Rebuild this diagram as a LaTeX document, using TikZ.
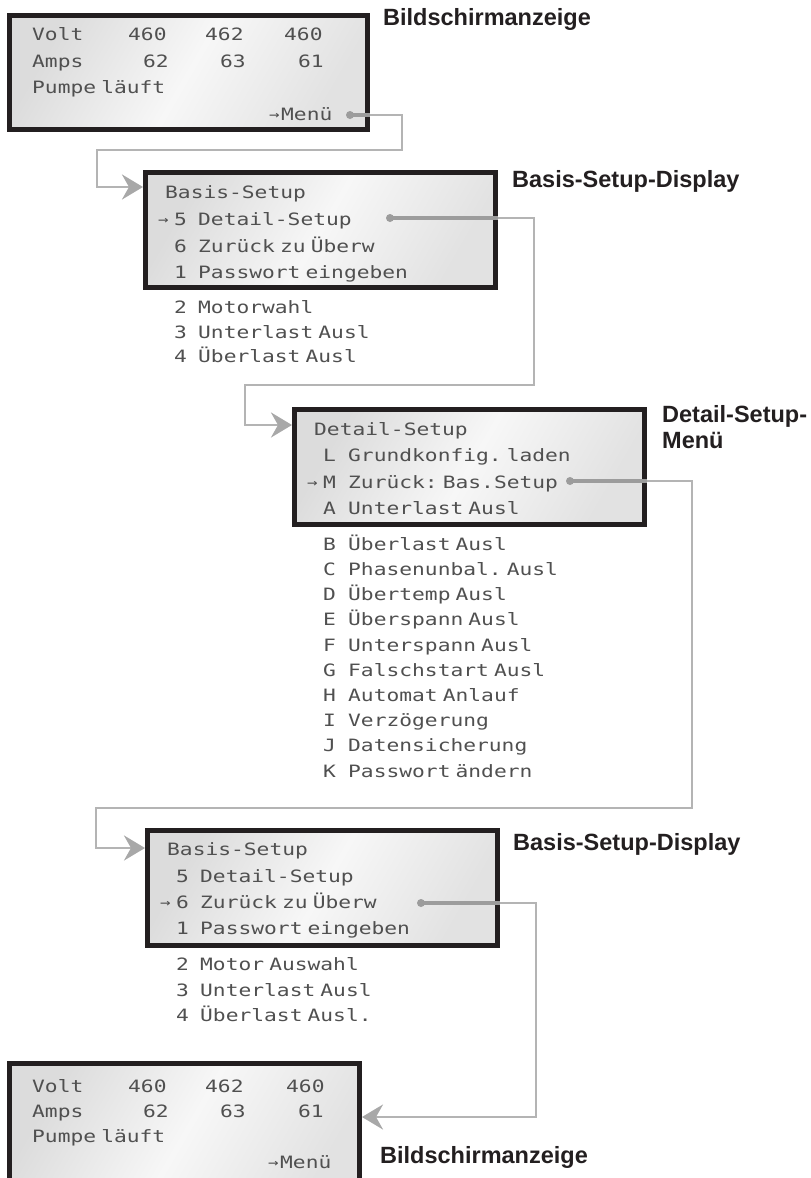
\documentclass[tikz,border=0pt]{standalone}
\usepackage{fontspec}
\usetikzlibrary{arrows.meta}
\newfontfamily\lcdfont[FakeStretch=1.25, WordSpace=0.4]{DejaVu Sans Mono}
\newfontfamily\capfont{Liberation Sans}
\definecolor{frame}{HTML}{231F20}
\definecolor{lcdtext}{HTML}{505050}
\definecolor{linkgray}{HTML}{B4B4B4}
\definecolor{linkdark}{HTML}{9C9C9C}
\definecolor{tipgray}{HTML}{A8A8A8}
\definecolor{lcdA}{HTML}{DCDCDC}
\definecolor{lcdB}{HTML}{E2E2E2}
\definecolor{lcdC}{HTML}{F7F7F7}
\tikzset{
  lcdbox/.style={draw=frame, line width=5pt, inner sep=0pt, anchor=north west,
    left color=lcdA, right color=lcdB, middle color=lcdC, shading angle=60},
  lcd/.style={anchor=base west, inner sep=0pt, text=lcdtext,
    font={\lcdfont\frenchspacing\fontsize{17}{20}\selectfont}},
  cursor/.style={anchor=base west, inner sep=0pt, text=lcdtext,
    font={\lcdfont\fontsize{14}{15}\selectfont}},
  caption/.style={anchor=base west, inner sep=0pt, text=frame,
    font={\capfont\bfseries\fontsize{23.5}{26}\selectfont}},
  link/.style={draw=linkgray, line width=2.5pt},
  linkin/.style={draw=linkdark, line width=3.2pt},
  tap/.style={circle, fill=linkdark, inner sep=0pt, minimum size=8pt},
  tip/.style={-{Stealth[length=21pt, width=25pt, inset=7pt, color=tipgray]}}
}
\begin{document}
\begin{tikzpicture}[x=1pt, y=-1pt]
\clip (0,0) rectangle (811,1178);
\fill[white] (0,0) rectangle (811,1178);

% ---------- main display (top) ----------
\node[lcdbox, minimum width=358pt, minimum height=114pt] (d1) at (7,13) {};
\node[lcd] (d1v) at (32,40) {Volt};
\node[lcd] (d1v1) at (128,40) {460};
\node[lcd] (d1v2) at (205,40) {462};
\node[lcd] (d1v3) at (284,40) {460};
\node[lcd] (d1a) at (32,67) {Amps};
\node[lcd] (d1a1) at (143,67) {62};
\node[lcd] (d1a2) at (220,67) {63};
\node[lcd] (d1a3) at (298,67) {61};
\node[lcd] (d1p) at (32,93) {Pumpe läuft};
\node[cursor] (d1c) at (269,119) {→};
\node[lcd] (d1m) at (281,120) {Menü};
\node[tap] (t1) at (350,115) {};
\node[caption] (c1) at (383,25) {Bildschirmanzeige};

% ---------- basic setup ----------
\node[lcdbox, minimum width=350pt, minimum height=115pt] (d2) at (143,170) {};
\node[lcd] (d2t) at (165,198) {Basis-Setup};
\node[cursor] (d2c) at (158,224) {→};
\foreach \k/\txt/\y in {5/Detail-Setup/225, 6/Zurück zu Überw/252,
    1/Passwort eingeben/278, 2/Motorwahl/313, 3/Unterlast Ausl/338,
    4/Überlast Ausl/362} {
  \node[lcd] (d2k\k) at (174,\y) {\k};
  \node[lcd] (d2r\k) at (198,\y) {\txt};
}
\node[tap] (t2) at (390,218) {};
\node[caption] (c2) at (512,187) {Basis-Setup-Display};

% ---------- detail setup ----------
\node[lcdbox, minimum width=350pt, minimum height=115pt] (d3) at (292,407) {};
\node[lcd] (d3t) at (314,435) {Detail-Setup};
\node[cursor] (d3c) at (307,487) {→};
\foreach \k/\txt/\y in {L/Grundkonfig. laden/461, M/Zurück: Bas.Setup/488,
    A/Unterlast Ausl/514, B/Überlast Ausl/550, C/Phasenunbal. Ausl/575,
    D/Übertemp Ausl/600, E/Überspann Ausl/625, F/Unterspann Ausl/651,
    G/Falschstart Ausl/676, H/Automat Anlauf/701, I/Verzögerung/726,
    J/Datensicherung/751, K/Passwort ändern/777} {
  \node[lcd] (d3k\k) at (323,\y) {\k};
  \node[lcd] (d3r\k) at (348,\y) {\txt};
}
\node[tap] (t3) at (570,481) {};
\node[caption] (c3) at (662,422) {Detail-Setup-};
\node[caption] (c3b) at (662,448) {Menü};

% ---------- basic setup, return ----------
\node[lcdbox, minimum width=350pt, minimum height=115pt] (d4) at (145,828) {};
\node[lcd] (d4t) at (167,855) {Basis-Setup};
\node[cursor] (d4c) at (160,907) {→};
\foreach \k/\txt/\y in {5/Detail-Setup/882, 6/Zurück zu Überw/908,
    1/Passwort eingeben/934, 2/Motor Auswahl/970, 3/Unterlast Ausl/996,
    4/Überlast Ausl./1021} {
  \node[lcd] (d4k\k) at (176,\y) {\k};
  \node[lcd] (d4r\k) at (200,\y) {\txt};
}
\node[tap] (t4) at (421,903) {};
\node[caption] (c4) at (513,850) {Basis-Setup-Display};

% ---------- main display (bottom) ----------
\node[lcdbox, minimum width=350pt, minimum height=140pt] (d5) at (7,1061) {};
\node[lcd] (d5v) at (32,1092) {Volt};
\node[lcd] (d5v1) at (128,1092) {460};
\node[lcd] (d5v2) at (205,1092) {462};
\node[lcd] (d5v3) at (286,1092) {460};
\node[lcd] (d5a) at (32,1117) {Amps};
\node[lcd] (d5a1) at (143,1117) {62};
\node[lcd] (d5a2) at (220,1117) {63};
\node[lcd] (d5a3) at (298,1117) {61};
\node[lcd] (d5p) at (32,1142) {Pumpe läuft};
\node[cursor] (d5c) at (268,1167) {→};
\node[lcd] (d5m) at (280,1168) {Menü};
\node[caption] (c5) at (380,1163) {Bildschirmanzeige};

% ---------- connectors ----------
\coordinate (y2) at (0,187);
\coordinate (y3) at (0,425);
\coordinate (y4) at (0,848);
\coordinate (y5) at (0,1117);
\draw[link, tip] (t1.center) -- (402,115) |- (97,150) |- (d2.west |- y2);
\draw[link, tip] (t2.center) -- (534,218) |- (245,385) |- (d3.west |- y3);
\draw[link, tip] (t3.center) -- (692,481) |- (96,808) |- (d4.west |- y4);
\draw[link, tip] (t4.center) -- (536,903) |- (d5.east |- y5);
\draw[linkin] (t1.center) -- (d1.east |- t1);
\draw[linkin] (t2.center) -- (d2.east |- t2);
\draw[linkin] (t3.center) -- (d3.east |- t3);
\draw[linkin] (t4.center) -- (d4.east |- t4);
\end{tikzpicture}
\end{document}
